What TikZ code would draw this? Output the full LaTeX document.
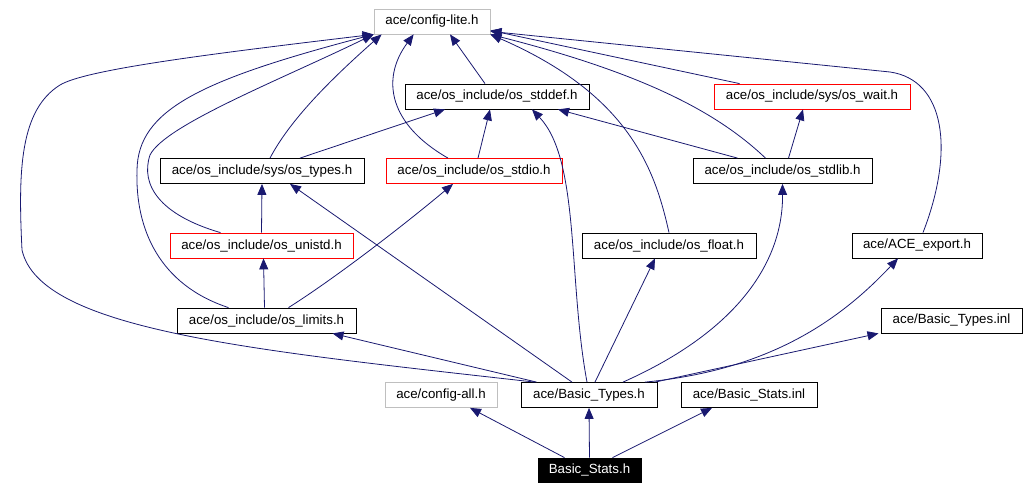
\documentclass[tikz,border=0pt]{standalone}
\usepackage{fontspec}
\setmainfont{Liberation Sans}
\usetikzlibrary{arrows.meta}
\definecolor{edgeblue}{RGB}{25,25,112}
\definecolor{boxgray}{RGB}{191,191,191}

\begin{document}
\begin{tikzpicture}[x=1pt, y=-1pt]
\tikzstyle{file}=[rectangle, draw=black, line width=0.8pt, minimum height=25pt, inner sep=0pt, font=\fontsize{13.3}{16}\selectfont]
\tikzstyle{redfile}=[file, draw=red]
\tikzstyle{grayfile}=[file, draw=boxgray]
\tikzstyle{connect}=[-{Triangle[length=11pt, width=9pt]}, draw=edgeblue, line width=0.8pt]
  \useasboundingbox (0,0) rectangle (1030,490);
  \node[grayfile, minimum width=116pt] (lite) at (432,21.5) {ace/config-lite.h};
  \node[file, minimum width=184pt] (stddef) at (497,96.5) {ace/os\_include/os\_stddef.h};
  \node[redfile, minimum width=196pt] (wait) at (812,96.5) {ace/os\_include/sys/os\_wait.h};
  \node[file, minimum width=204pt] (types) at (262,171) {ace/os\_include/sys/os\_types.h};
  \node[redfile, minimum width=176pt] (stdio) at (474,171) {ace/os\_include/os\_stdio.h};
  \node[file, minimum width=179pt] (stdlib) at (782.5,171) {ace/os\_include/os\_stdlib.h};
  \node[redfile, minimum width=183pt] (unistd) at (261.5,245.5) {ace/os\_include/os\_unistd.h};
  \node[file, minimum width=174pt] (float) at (669,245.5) {ace/os\_include/os\_float.h};
  \node[file, minimum width=130pt] (export) at (917,245.5) {ace/ACE\_export.h};
  \node[file, minimum width=179pt] (limits) at (266.5,320.5) {ace/os\_include/os\_limits.h};
  \node[file, minimum width=141pt] (btinl) at (951.5,320.5) {ace/Basic\_Types.inl};
  \node[grayfile, minimum width=112pt] (cfgall) at (441,395) {ace/config-all.h};
  \node[file, minimum width=136pt] (btypes) at (589,395) {ace/Basic\_Types.h};
  \node[file, minimum width=136pt] (bsinl) at (749,395) {ace/Basic\_Stats.inl};
  \node[file, fill=black, text=white, minimum width=103pt, minimum height=24pt] (stats) at (589.5,470) {Basic\_Stats.h};
  \path ([xshift=-25pt]stats.north) edge [connect] ([xshift=29pt]cfgall.south)
        (stats.north) edge [connect] (btypes.south)
        ([xshift=23pt]stats.north) edge [connect] ([xshift=-37pt]bsinl.south)
        ([xshift=16pt]btypes.north west) edge [connect] ([xshift=66pt]limits.south)
        ([xshift=-17pt]btypes.north) edge [connect] ([xshift=28pt]types.south)
        ([xshift=6pt]btypes.north) edge [connect] ([xshift=-14pt]float.south)
        ([xshift=66pt]btypes.north) edge [connect] ([xshift=-73pt]btinl.south)
        ([xshift=-2pt]limits.north) edge [connect] ([xshift=2pt]unistd.south)
        (unistd.north) edge [connect] (types.south)
        ([xshift=38pt]types.north) edge [connect] ([xshift=-52pt]stddef.south)
        ([xshift=4pt]stdio.north) edge [connect] ([xshift=-7pt]stddef.south)
        ([xshift=-12pt]stddef.north) edge [connect] ([xshift=18pt]lite.south)
        ([xshift=-45pt]stdlib.north) edge [connect] ([xshift=61pt]stddef.south)
        ([xshift=6pt]stdlib.north) edge [connect] ([xshift=-9pt]wait.south)
        ([xshift=26pt]wait.north west) edge [connect] ([yshift=4pt]lite.south east);
  \draw[connect] ([xshift=14pt]btypes.north west) .. controls (250,350) and (40,330) .. (22,250)
        .. controls (18,170) and (20,110) .. (60,85) .. controls (85,70) and (200,55) .. (lite.south west);
  \draw[connect] ([xshift=-38pt]limits.north) .. controls (160,285) and (135,230) .. (137,170)
        .. controls (138,110) and (200,80) .. (lite.south west);
  \draw[connect] ([xshift=-41pt]unistd.north) .. controls (160,215) and (140,185) .. (150,155)
        .. controls (165,125) and (280,80) .. (lite.south west);
  \draw[connect] ([xshift=8pt]types.north) .. controls (290,120) and (330,80) .. ([xshift=8pt]lite.south west);
  \draw[connect] ([xshift=-26pt]stdio.north) .. controls (390,125) and (380,80) .. ([xshift=40pt]lite.south west);
  \draw[connect] ([xshift=-2pt]btypes.north) .. controls (568,280) and (580,160) .. ([xshift=35pt]stddef.south);
  \draw[connect] ([xshift=22pt]limits.north) .. controls (340,275) and (410,220) .. ([xshift=-21pt]stdio.south);
  \draw[connect] ([xshift=34pt]btypes.north) .. controls (740,330) and (783,260) .. (stdlib.south);
  \draw[connect] ([xshift=56pt]btypes.north) .. controls (770,370) and (840,320) .. ([xshift=-19pt]export.south);
  \draw[connect] ([xshift=-17pt]stdlib.north) .. controls (720,115) and (650,75) .. (lite.south east);
  \draw[connect] (float.north) .. controls (655,170) and (630,95) .. (lite.south east);
  \draw[connect] ([xshift=6pt]export.north) .. controls (955,150) and (945,80) .. (890,72) -- ([yshift=3pt]lite.south east);
\end{tikzpicture}
\end{document}
